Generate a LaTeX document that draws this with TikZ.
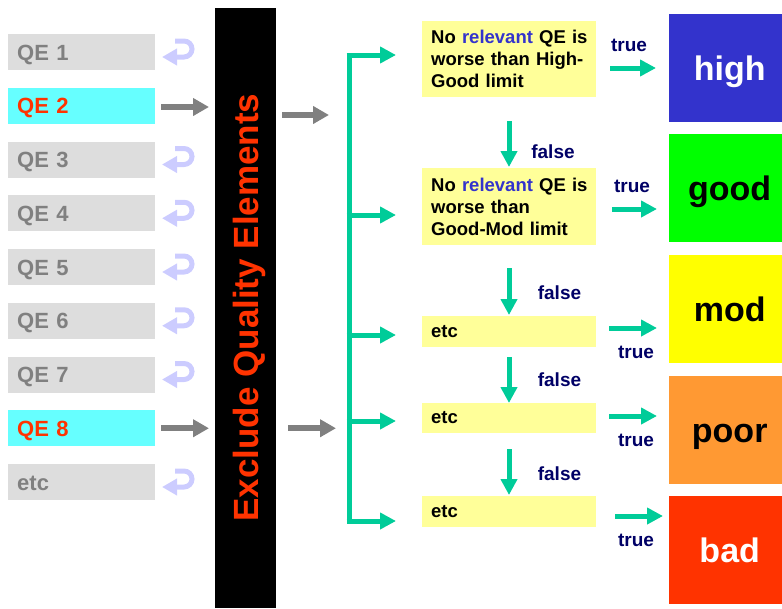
\documentclass[tikz,border=0pt]{standalone}
\usepackage{fontspec}
\setmainfont{Liberation Sans}
\usetikzlibrary{arrows.meta}
\definecolor{qegray}{HTML}{DDDDDD}
\definecolor{qetext}{HTML}{808080}
\definecolor{qecyan}{HTML}{66FFFF}
\definecolor{qered}{HTML}{FF3300}
\definecolor{lav}{HTML}{CCCCFF}
\definecolor{grarrow}{HTML}{808080}
\definecolor{grn}{HTML}{00CC99}
\definecolor{ylw}{HTML}{FFFF99}
\definecolor{navy}{HTML}{000066}
\definecolor{relblue}{HTML}{3333CC}
\definecolor{hiblue}{HTML}{3333CC}
\definecolor{goodgreen}{HTML}{00FF00}
\definecolor{modyellow}{HTML}{FFFF00}
\definecolor{poororange}{HTML}{FF9933}
\definecolor{badred}{HTML}{FF3300}
\begin{document}
\begin{tikzpicture}[x=1pt,y=-1pt,
  qebox/.style={fill=qegray, minimum height=36pt, anchor=west, text=qetext,
    font=\fontsize{22}{26}\selectfont\bfseries, inner xsep=9pt, inner ysep=0pt,
    text width=129pt, align=left, text height=16pt, text depth=0pt},
  qesel/.style={qebox, fill=qecyan, text=qered},
  ybox/.style={fill=ylw, anchor=west, font=\fontsize{18.5}{22}\selectfont\bfseries,
    inner xsep=9pt, inner ysep=0pt, text width=156pt, align=left},
  resbox/.style={minimum width=113pt, minimum height=108pt, anchor=north west,
    inner sep=0pt},
  restext/.style={font=\fontsize{34}{40}\selectfont\bfseries, inner sep=0pt,
    text height=25pt, text depth=0pt},
  lbl/.style={text=navy, font=\fontsize{19}{22}\selectfont\bfseries, inner sep=0pt},
  grarr/.style={draw=grarrow, line width=6pt, -{Triangle[length=16pt,width=17pt]}},
  grnarr/.style={draw=grn, line width=5pt, -{Triangle[length=16pt,width=16pt]}},
  grnline/.style={draw=grn, line width=5pt},
  lavarr/.style={draw=lav, line width=5pt, -{Triangle[length=15pt,width=16pt]}}
]
\useasboundingbox (0,0) rectangle (782,608);

% QE boxes
\node[qebox] (qe1) at (8,52) {QE 1};
\node[qesel] (qe2) at (8,105.75) {QE 2};
\node[qebox] (qe3) at (8,159.5) {QE 3};
\node[qebox] (qe4) at (8,213.25) {QE 4};
\node[qebox] (qe5) at (8,267) {QE 5};
\node[qebox] (qe6) at (8,320.75) {QE 6};
\node[qebox] (qe7) at (8,374.5) {QE 7};
\node[qesel] (qe8) at (8,428.25) {QE 8};
\node[qebox] (qe9) at (8,482) {etc};

% curved (excluded) arrows
\foreach \n/\yc in {1/52, 3/159.5, 4/213.25, 5/267, 6/320.75, 7/374.5, 9/482}{
  \coordinate (cs\n) at (175,\yc-11);
  \coordinate (ce\n) at (162,\yc+5);
  \draw[lavarr] (cs\n) -- ++(9,0) arc[start angle=-90,end angle=90,radius=8] -- (ce\n);
}

% bar
\node[fill=black, minimum width=61pt, minimum height=600pt, anchor=north west, inner sep=0pt] (bar) at (215,8) {};
\node[rotate=90, anchor=base, text=qered, font=\fontsize{35}{40}\selectfont\bfseries, inner sep=0pt] (bartext) at (258,307.5) {Exclude Quality Elements};

% gray arrows
\coordinate (g2a) at (161,107);
\coordinate (g2b) at (209,107);
\coordinate (g8a) at (161,428.25);
\coordinate (g8b) at (209,428.25);
\coordinate (g3a) at (282,115);
\coordinate (g3b) at (329,115);
\coordinate (g4a) at (288,428.25);
\coordinate (g4b) at (336,428.25);
\draw[grarr] (g2a) -- (g2b);
\draw[grarr] (g8a) -- (g8b);
\draw[grarr] (g3a) -- (g3b);
\draw[grarr] (g4a) -- (g4b);

% yellow decision boxes
\node[ybox, minimum height=76pt] (d1) at (422,59) {\mbox{No \textcolor{relblue}{relevant} QE is}\\\mbox{worse than High-}\\Good limit};
\node[ybox, minimum height=77pt] (d2) at (422,206.5) {\mbox{No \textcolor{relblue}{relevant} QE is}\\worse than\\\mbox{Good-Mod limit}};
\node[ybox, minimum height=31pt] (d3) at (422,331.5) {etc};
\node[ybox, minimum height=30pt] (d4) at (422,418) {etc};
\node[ybox, minimum height=31pt] (d5) at (422,511.5) {etc};

% result boxes
\node[resbox, fill=hiblue] (r1) at (669,14) {};
\node[resbox, fill=goodgreen] (r2) at (669,134) {};
\node[resbox, fill=modyellow] (r3) at (669,255) {};
\node[resbox, fill=poororange] (r4) at (669,376) {};
\node[resbox, fill=badred] (r5) at (669,496) {};
\node[restext, text=white] (r1t) at ([xshift=4pt]r1.center) {high};
\node[restext, text=black] (r2t) at ([xshift=4pt]r2.center) {good};
\node[restext, text=black] (r3t) at ([xshift=4pt]r3.center) {mod};
\node[restext, text=black] (r4t) at ([xshift=4pt]r4.center) {poor};
\node[restext, text=white] (r5t) at ([xshift=4pt]r5.center) {bad};

% green bracket
\coordinate (bt) at (349,55);
\coordinate (bb) at (349,521);
\draw[grnline] (bt) -- (bb);
\foreach \i/\y in {1/55, 2/215, 3/335, 4/421, 5/521}{
  \coordinate (ba\i) at (346.5,\y);
  \coordinate (bz\i) at (396,\y);
  \draw[grnarr] (ba\i) -- (bz\i);
}

% false arrows
\coordinate (f1a) at (509,121); \coordinate (f1b) at (509,167);
\coordinate (f2a) at (509,268); \coordinate (f2b) at (509,315);
\coordinate (f3a) at (509,357); \coordinate (f3b) at (509,403);
\coordinate (f4a) at (509,449); \coordinate (f4b) at (509,495);
\draw[grnarr] (f1a) -- (f1b);
\draw[grnarr] (f2a) -- (f2b);
\draw[grnarr] (f3a) -- (f3b);
\draw[grnarr] (f4a) -- (f4b);
\node[lbl] (fl1) at (553,152) {false};
\node[lbl] (fl2) at (559.5,293) {false};
\node[lbl] (fl3) at (559.5,380) {false};
\node[lbl] (fl4) at (559.5,474) {false};

% true arrows
\coordinate (t1a) at (610,68);  \coordinate (t1b) at (656,68);
\coordinate (t2a) at (612,209); \coordinate (t2b) at (657,209);
\coordinate (t3a) at (609,328); \coordinate (t3b) at (657,328);
\coordinate (t4a) at (609,416); \coordinate (t4b) at (657,416);
\coordinate (t5a) at (615,516); \coordinate (t5b) at (663,516);
\draw[grnarr] (t1a) -- (t1b);
\draw[grnarr] (t2a) -- (t2b);
\draw[grnarr] (t3a) -- (t3b);
\draw[grnarr] (t4a) -- (t4b);
\draw[grnarr] (t5a) -- (t5b);
\node[lbl] (tl1) at (629,45) {true};
\node[lbl] (tl2) at (632,186) {true};
\node[lbl] (tl3) at (636,352) {true};
\node[lbl] (tl4) at (636,440) {true};
\node[lbl] (tl5) at (636,540) {true};
\end{tikzpicture}
\end{document}
